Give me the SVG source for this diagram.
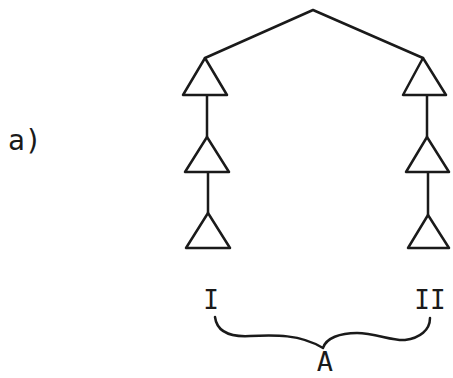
<svg xmlns="http://www.w3.org/2000/svg" width="453" height="378" viewBox="0 0 453 378">
<style>
.l{stroke:#1a1a1a;stroke-width:2.5;fill:none;stroke-linejoin:round;stroke-linecap:round}
.t{fill:#fff;stroke:#1a1a1a;stroke-width:2.5;stroke-linejoin:round}
.tx{font-family:"DejaVu Sans Mono","Liberation Mono",monospace;fill:#1a1a1a}
</style>
<rect width="453" height="378" fill="#fff"/>
<g id="connectors">
<path class="l" d="M205 58 L313 10 L423 58"/>
<path class="l" d="M207 95 L207 137 M208 172 L208 213"/>
<path class="l" d="M427 95 L427 137 M428 172 L428 215"/>
<path class="l" d="M215 317 C217 333,232 337,250 336 C275 335,300 334,323 348 C326 338,340 333,357 333 C375 333,392 341,405 340 C420 338,430 330,430 318"/>
</g>
<g id="L1"><polygon class="t" points="205,58 183,95 227,95"/></g>
<g id="L2"><polygon class="t" points="207,137 185,172 229,172"/></g>
<g id="L3"><polygon class="t" points="208,213 186,248 230,248"/></g>
<g id="R1"><polygon class="t" points="423,58 403,95 446,95"/></g>
<g id="R2"><polygon class="t" points="427,137 406,172 449,172"/></g>
<g id="R3"><polygon class="t" points="428,215 408,248 449,248"/></g>
<text class="tx" x="8" y="150" font-size="28">a)</text>
<text class="tx" x="211" y="309" font-size="26" text-anchor="middle">I</text>
<text class="tx" x="430" y="309" font-size="26" text-anchor="middle">II</text>
<text class="tx" x="325" y="371" font-size="27" text-anchor="middle">A</text>
</svg>
